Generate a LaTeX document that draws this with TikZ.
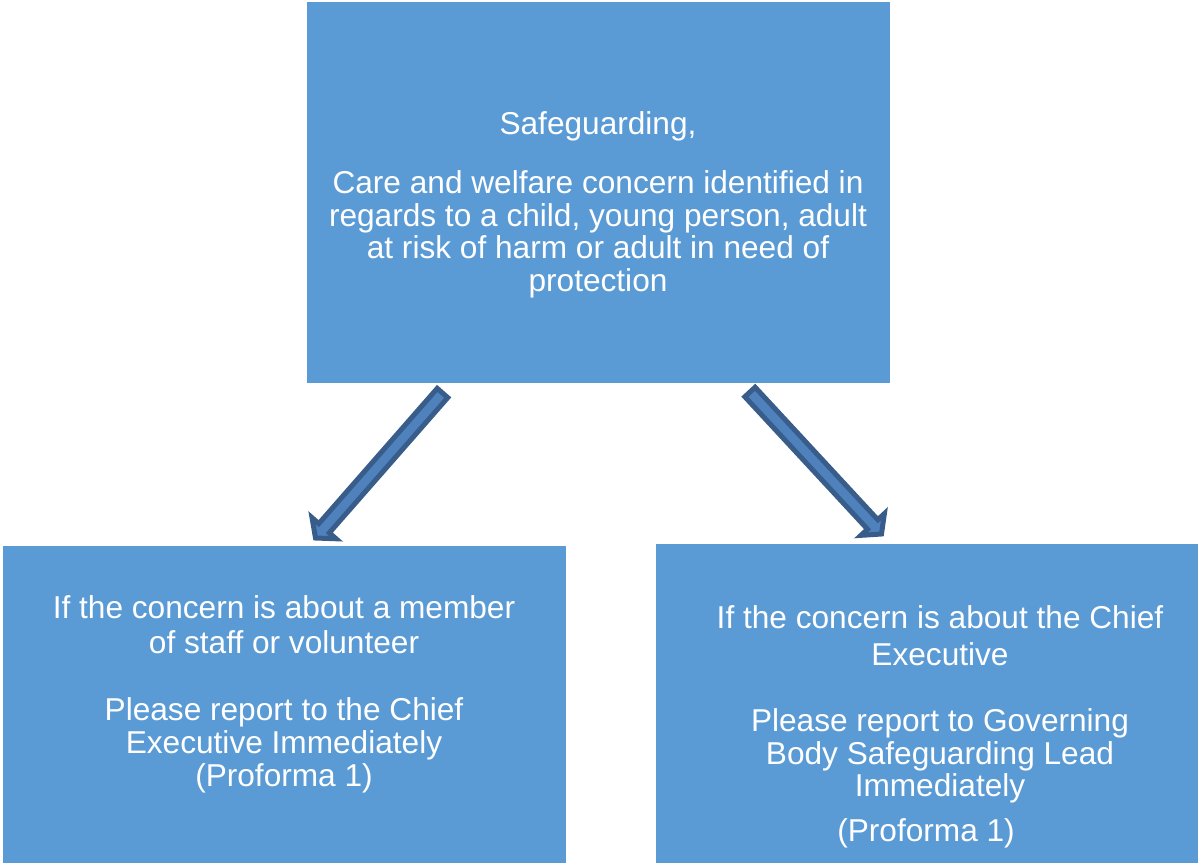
\documentclass[tikz,border=0pt]{standalone}
\usepackage{fontspec}
\setmainfont{Liberation Sans}
\usepackage{tikz}
\usetikzlibrary{calc}
\definecolor{boxblue}{RGB}{91, 155, 213}
\definecolor{arrowfill}{RGB}{79, 129, 189}
\definecolor{arrowline}{RGB}{56, 93, 138}

% block arrow from a tail coordinate to a tip coordinate
\newcommand{\blockarrow}[2]{%
  \coordinate (#1-base) at ($(#2)!0.26cm!(#1)$);
  \draw[blockarrow] ($(#1)!0.14cm!90:(#2)$) -- ($(#1-base)!0.14cm!90:(#2)$)
    -- ($(#1-base)!0.32cm!90:(#2)$) -- (#2)
    -- ($(#1-base)!0.32cm!-90:(#2)$) -- ($(#1-base)!0.14cm!-90:(#2)$)
    -- ($(#1)!0.14cm!-90:(#2)$) -- cycle;}

\begin{document}
\begin{tikzpicture}[
        x=0.02cm, y=-0.02cm,
        box/.style={fill=boxblue, inner sep=0pt, outer sep=0pt},
        boxtext/.style={text=white, align=center,
                        font=\fontsize{18}{18.6}\selectfont},
        blockarrow/.style={draw=arrowline, fill=arrowfill,
                           line width=0.1cm, line join=miter},
      ]
        \useasboundingbox (0,0) rectangle (1198,863);

        \node[box, minimum width=11.66cm, minimum height=7.62cm] (concern) at (598.5,192.5) {};
        \node[box, minimum width=11.26cm, minimum height=6.34cm] (staff) at (284.5,704.5) {};
        \node[box, minimum width=10.84cm, minimum height=6.38cm] (chief) at (927,703.5) {};

        \node[boxtext] (concerntext) at (598,205)
          {Safeguarding,\\[14.7pt]
           Care and welfare concern identified in\\
           regards to a child, young person, adult\\
           at risk of harm or adult in need of\\
           protection};
        \node[boxtext] (stafftext) at (284,694)
          {If the concern is about a member\\[1.2pt]
           of staff or volunteer\\[20pt]
           Please report to the Chief\\
           Executive Immediately\\
           (Proforma 1)};
        \node[boxtext] (chieftext) at (940,727)
          {If the concern is about the Chief\\[2.4pt]
           Executive\\[19pt]
           Please report to Governing\\
           Body Safeguarding Lead\\
           Immediately\\[7pt]
           (Proforma 1)\hspace*{0.56cm}};

        \coordinate (lefttail) at (442.5,393);
        \coordinate (lefttip) at (315.5,538);
        \coordinate (righttail) at (750,392);
        \coordinate (righttip) at (881.5,534);

        \blockarrow{lefttail}{lefttip}
        \blockarrow{righttail}{righttip}
      \end{tikzpicture}
\end{document}
